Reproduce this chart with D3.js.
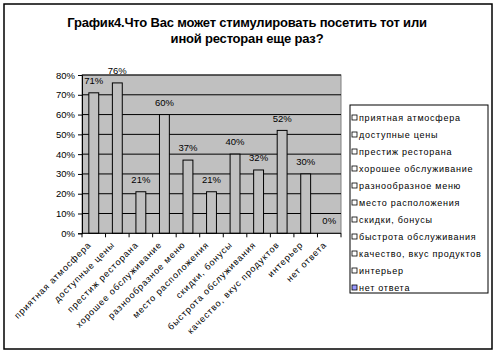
<!DOCTYPE html>
<html><head><meta charset="utf-8">
<script src="https://cdn.jsdelivr.net/npm/d3@7"></script>
<style>
body{margin:0;background:#fff;}
text{font-family:"Liberation Sans",Arial,sans-serif;fill:#000;}
</style></head><body>
<svg id="c" width="496" height="353"></svg>
<script>
const titleLines = ["График4.Что Вас может стимулировать посетить тот или", "иной ресторан еще раз?"];
const categories = ["приятная атмосфера","доступные цены","престиж ресторана","хорошее обслуживание","разнообразное меню","место расположения","скидки, бонусы","быстрота обслуживания","качество, вкус продуктов","интерьер","нет ответа"];
const values = [71, 76, 21, 60, 37, 21, 40, 32, 52, 30, 0];
const yTicks = [0,10,20,30,40,50,60,70,80];
const legendColors = ["#ffffff","#ffffff","#ffffff","#ffffff","#ffffff","#ffffff","#ffffff","#ffffff","#ffffff","#ffffff","#9999ff"];

const svg = d3.select("#c");
svg.append("rect").attr("x",4).attr("y",4).attr("width",488).attr("height",345)
  .attr("fill","#fff").attr("stroke","#000").attr("stroke-width",1.5);

svg.append("g").selectAll("text").data(titleLines).join("text")
  .attr("x",247).attr("y",(d,i)=>27+i*16).attr("text-anchor","middle")
  .attr("font-size","13px").attr("font-weight","bold").attr("letter-spacing","-0.2px")
  .text(d=>d);

const L=82, R=341, T=75, B=233.3;
const x = d3.scaleBand().domain(categories).range([L,R]);
const y = d3.scaleLinear().domain([0,80]).range([B,T]);
const yLabel = d3.scaleLinear().domain([0,80]).range([224,66.4]);

svg.append("rect").attr("x",L).attr("y",T).attr("width",R-L).attr("height",B-T)
  .attr("fill","#c0c0c0").attr("stroke","#808080").attr("stroke-width",1);

svg.append("g").selectAll("line").data(yTicks.filter(d=>d>0)).join("line")
  .attr("x1",L).attr("x2",R).attr("y1",d=>y(d)).attr("y2",d=>y(d))
  .attr("stroke","#000").attr("stroke-width",1);

const yAxis = svg.append("g").attr("transform",`translate(${L},0)`)
  .call(d3.axisLeft(y).tickValues(yTicks).tickFormat(d=>d+"%").tickSize(4).tickPadding(3));
yAxis.select(".domain").attr("stroke","#000");
yAxis.selectAll("text").attr("font-size","9.5px").attr("font-family","'Liberation Sans',Arial,sans-serif");

const bw = x.bandwidth()*0.42;
svg.append("g").selectAll("rect").data(values).join("rect")
  .attr("x",(d,i)=>x(categories[i])+x.bandwidth()/2-bw/2)
  .attr("y",d=>y(d)).attr("width",bw).attr("height",d=>B-y(d))
  .attr("fill","#c0c0c0").attr("stroke","#000").attr("stroke-width",1);

svg.append("g").selectAll("text").data(values).join("text")
  .attr("x",(d,i)=>x(categories[i])+x.bandwidth()/2)
  .attr("y",d=>yLabel(d)).attr("text-anchor","middle").attr("font-size","9.5px")
  .text(d=>d+"%");

// x axis
svg.append("line").attr("x1",L).attr("x2",R).attr("y1",B).attr("y2",B).attr("stroke","#000");
const bounds = categories.map(c=>x(c)).concat([R]);
svg.append("g").selectAll("line").data(bounds).join("line")
  .attr("x1",d=>d).attr("x2",d=>d).attr("y1",B).attr("y2",B+4).attr("stroke","#000");

svg.append("g").selectAll("text").data(categories).join("text")
  .attr("transform",d=>`translate(${x(d)+x.bandwidth()/2-2},${B+12}) rotate(-45)`)
  .attr("text-anchor","end").attr("font-size","9px").attr("letter-spacing","0.9px")
  .text(d=>d);

// legend
svg.append("rect").attr("x",350).attr("y",105).attr("width",138).attr("height",188)
  .attr("fill","#fff").attr("stroke","#000").attr("stroke-width",1);
const lg = svg.append("g").selectAll("g").data(categories).join("g")
  .attr("transform",(d,i)=>`translate(352,${118+i*17})`);
lg.append("rect").attr("x",0).attr("y",-3).attr("width",5).attr("height",5)
  .attr("fill",(d,i)=>legendColors[i]).attr("stroke","#000").attr("stroke-width",0.8);
lg.append("text").attr("x",7).attr("y",3).attr("font-size","9px").attr("letter-spacing","0.75px").text(d=>d);
</script></body></html>
